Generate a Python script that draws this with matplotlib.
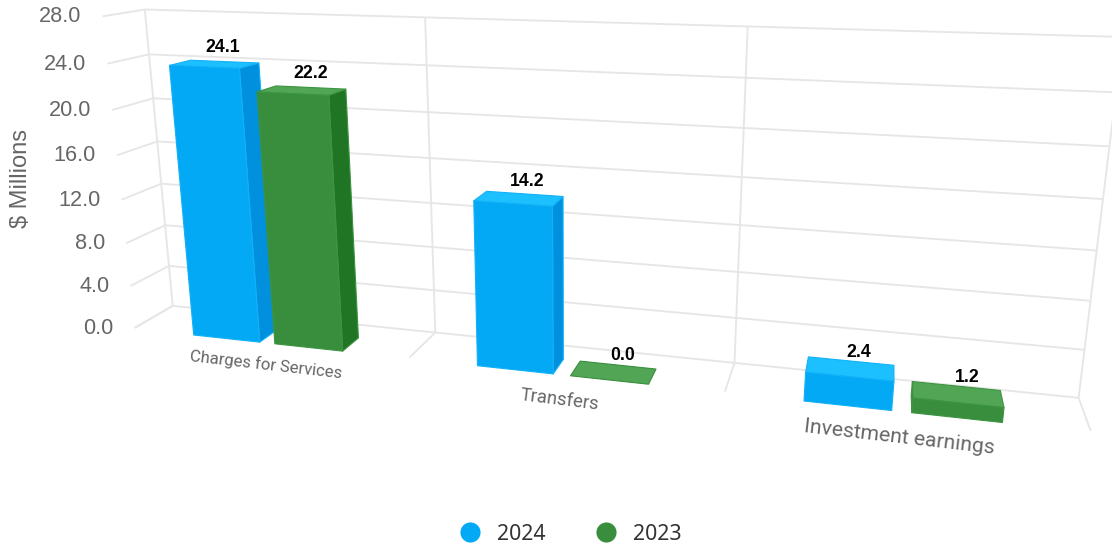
import numpy as np
import matplotlib
matplotlib.use("Agg")
import matplotlib.pyplot as plt
from matplotlib.patches import Polygon

# Chart data
categories = ["Charges for Services", "Transfers", "Investment earnings"]
series_names = ["2024", "2023"]
values_2024 = [24.1, 14.2, 2.4]
values_2023 = [22.2, 0.0, 1.2]
y_ticks = [0, 4, 8, 12, 16, 20, 24, 28]

# Colours per series: front, side, top, outline
BLUE = dict(front="#03A9F4", side="#0090DD", top="#1DC0FF", edge="#12B0F8")
GREEN = dict(front="#388E3C", side="#1F7523", top="#51A555", edge="#3C9440")
GRID = "#e6e6e6"
TEXT = "#666666"

# Camera: anchors of the plot box as (category x, value, depth) -> canvas pixels.
# Depth 1 is the back wall, depth 0 is the front edge of the floor.
world = np.array([
    (0, 0, 1), (1, 0, 1), (2, 0, 1), (3, 0, 1),
    (0, 28, 1), (1, 28, 1), (2, 28, 1),
    (0, 12, 1), (0, 0, 0), (1, 0, 0), (2, 0, 0), (3, 0, 0),
    (0, 28, 0), (0, 12, 0),
], float)
canvas = np.array([
    (172, 306), (436, 332), (734, 362), (1079, 398),
    (145, 9), (426, 17), (747, 27),
    (161, 185), (135, 328), (410, 357), (724, 391), (1091, 432),
    (102, 16), (122, 200),
], float)


def solve_camera(w, c):
    rows = []
    for (X, Y, Z), (u, v) in zip(w, c):
        h = [X, Y, Z, 1]
        rows.append(h + [0, 0, 0, 0] + [-u * a for a in h])
        rows.append([0, 0, 0, 0] + h + [-v * a for a in h])
    return np.linalg.svd(np.array(rows))[2][-1].reshape(3, 4)


CAM = solve_camera(world, canvas)


def project(x, y, z):
    p = CAM @ np.array([x, y, z, 1.0])
    return p[0] / p[2], p[1] / p[2]


fig = plt.figure(figsize=(11.12, 5.46), dpi=100)
ax = fig.add_axes([0, 0, 1, 1])
ax.set_xlim(0, 1112)
ax.set_ylim(546, 0)
ax.axis("off")


def line(points, **kw):
    xs, ys = zip(*points)
    ax.plot(xs, ys, color=GRID, lw=1.35, solid_capstyle="butt", zorder=1, **kw)


# Walls and floor grid
for v in y_ticks:
    line([project(0, v, 0), project(0, v, 1), project(3, v, 1)])
for c in range(4):
    line([project(c, 0, 0), project(c, 0, 1), project(c, 28, 1)])

# Value axis labels sit just left of the front end of each grid line
for v in y_ticks:
    px, py = project(0, v, 0)
    ax.text(px - 21, py + 0.5, f"{v:.1f}", ha="right", va="center", fontsize=15.6,
            family="Liberation Sans", color=TEXT, zorder=5)

ax.text(21, 178, "$ Millions", rotation=90, ha="center", va="center", fontsize=17,
        family="Liberation Sans", color=TEXT)

# Horizontal span of each series inside a category, and the depth span of a bar
BAR_SPANS = [(0.23, 0.475), (0.53, 0.772)]
DEPTH_SPAN = (-0.03, 0.5)


def signed_area(pts):
    x, y = np.array(pts).T
    return 0.5 * np.sum(x * np.roll(y, -1) - np.roll(x, -1) * y)


def draw_bar(cat, span, value, style):
    x0, x1 = cat + span[0], cat + span[1]
    z0, z1 = DEPTH_SPAN
    # Faces wound so that a positive canvas area means the face looks at the viewer
    faces = [
        ("side", [(x0, 0, z0), (x0, value, z0), (x0, value, z1), (x0, 0, z1)][::-1]),
        ("side", [(x1, 0, z0), (x1, 0, z1), (x1, value, z1), (x1, value, z0)][::-1]),
        ("top", [(x0, value, z0), (x1, value, z0), (x1, value, z1), (x0, value, z1)][::-1]),
        ("front", [(x0, 0, z0), (x1, 0, z0), (x1, value, z0), (x0, value, z0)][::-1]),
    ]
    for kind, corners in faces:
        pts = [project(*c) for c in corners]
        if kind == "front" and value == 0:
            continue
        if kind == "side" and value == 0:
            continue
        if kind != "top" and signed_area(pts) <= 0:
            continue
        edge = style["edge"] if value else style["front"]
        ax.add_patch(Polygon(pts, closed=True, facecolor=style[kind], edgecolor=edge,
                             lw=0.8, joinstyle="round", zorder=3))
    # Data label above the centre of the bar top
    top = np.array([project(a, value, b) for a in (x0, x1) for b in (z0, z1)])
    cx = (top[:, 0].min() + top[:, 0].max()) / 2
    cy = (top[:, 1].min() + top[:, 1].max()) / 2
    ax.text(cx + 9, cy - 17, f"{value:.1f}", ha="center", va="center", fontsize=12.7,
            fontweight="bold", family="Liberation Sans", color="black", zorder=6)


for cat in range(len(categories)):
    draw_bar(cat, BAR_SPANS[0], values_2024[cat], BLUE)
    draw_bar(cat, BAR_SPANS[1], values_2023[cat], GREEN)

# Category labels follow the tilt of the floor edge
cat_pos = [(265.5, 365, -6.5, 12.0), (560, 400, -7, 13.3), (899, 437, -6.5, 15.2)]
for name, (px, py, rot, size) in zip(categories, cat_pos):
    ax.text(px, py, name, ha="center", va="center", rotation=rot, rotation_mode="anchor",
            fontsize=size, family="Roboto", color=TEXT)

# Legend
for (mx, tx), name, style in zip([(470, 521.5), (606, 657)], series_names, [BLUE, GREEN]):
    ax.plot([mx], [532], "o", ms=14.5, color=style["front"], mew=0)
    ax.text(tx, 534, name, ha="center", va="center", fontsize=15.3,
            family="Noto Sans", color="#333333")

fig.savefig("out.png", dpi=100)
